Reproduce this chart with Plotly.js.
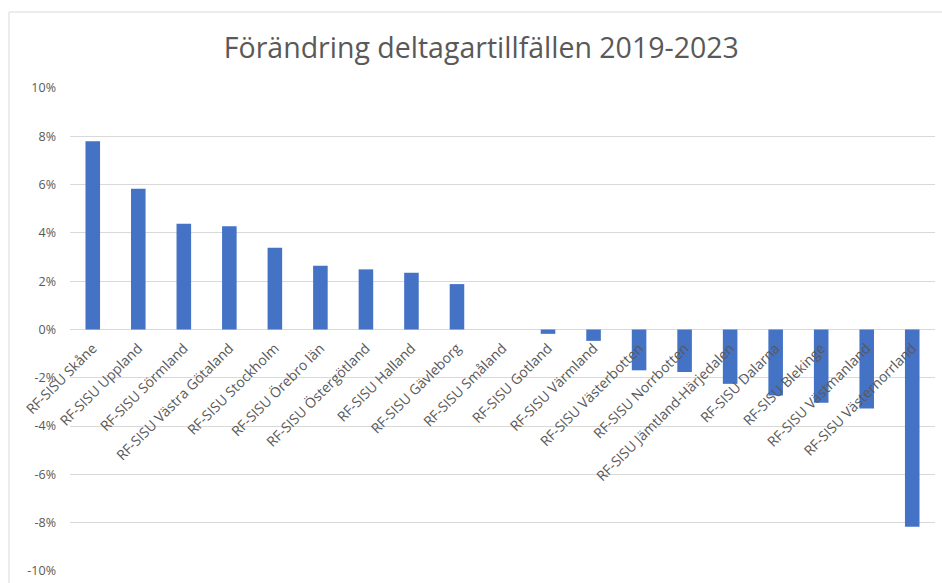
<!DOCTYPE html>
<html>
<head>
<meta charset="utf-8">
<script src="https://cdn.plot.ly/plotly-3.0.1.min.js"></script>
<style>
  body { margin: 0; background: #fff; }
  #myDiv { width: 942px; height: 583px; }
</style>
</head>
<body>
<div id="myDiv"></div>
<script>
var regions = [
  'RF-SISU Skåne', 'RF-SISU Uppland', 'RF-SISU Sörmland', 'RF-SISU Västra Götaland',
  'RF-SISU Stockholm', 'RF-SISU Örebro län', 'RF-SISU Östergötland', 'RF-SISU Halland',
  'RF-SISU Gävleborg', 'RF-SISU Småland', 'RF-SISU Gotland', 'RF-SISU Värmland',
  'RF-SISU Västerbotten', 'RF-SISU Norrbotten', 'RF-SISU Jämtland-Härjedalen',
  'RF-SISU Dalarna', 'RF-SISU Blekinge', 'RF-SISU Västmanland', 'RF-SISU Västernorrland'
];
// change in percent
var change = [
  7.79, 5.83, 4.38, 4.28,
  3.39, 2.64, 2.49, 2.35,
  1.88, 0.0, -0.18, -0.47,
  -1.69, -1.76, -2.25,
  -2.73, -3.03, -3.27, -8.17
];
var yTicks = [-10, -8, -6, -4, -2, 0, 2, 4, 6, 8, 10];
var yTickText = ['-10%', '-8%', '-6%', '-4%', '-2%', '0%', '2%', '4%', '6%', '8%', '10%'];

var trace1 = {
  type: 'bar',
  x: regions,
  y: change,
  marker: { color: '#4472C4' },
  hoverinfo: 'x+y'
};

var gray = '#595959';

var layout = {
  width: 942,
  height: 583,
  margin: { l: 70, r: 7, t: 88, b: 12 },
  paper_bgcolor: '#fff',
  plot_bgcolor: '#fff',
  showlegend: false,
  bargap: 0.68,
  title: {
    text: 'Förändring deltagartillfällen 2019-2023',
    font: { family: 'Open Sans', size: 28.5, color: gray },
    x: 0.511, xanchor: 'center',
    y: 0.918, yref: 'container', yanchor: 'middle'
  },
  xaxis: {
    type: 'category',
    anchor: 'free',
    position: 0.5,
    tickangle: -45,
    showgrid: false,
    showline: false,
    ticks: '',
    ticklabelstandoff: 7,
    tickfont: { family: 'Open Sans', size: 14, color: gray },
    range: [-0.5, 18.5]
  },
  yaxis: {
    range: [-10, 10],
    tickvals: yTicks,
    ticktext: yTickText,
    showgrid: true,
    gridcolor: '#d9d9d9',
    gridwidth: 1,
    zeroline: true,
    zerolinecolor: '#d9d9d9',
    zerolinewidth: 1,
    showline: false,
    ticks: '',
    ticklabelstandoff: 13,
    tickfont: { family: 'Open Sans', size: 12.5, color: gray }
  },
  shapes: [{
    type: 'rect',
    xref: 'paper', yref: 'paper',
    x0: (9 - 70) / 865, x1: (945 - 70) / 865,
    y0: (571 - 590) / 483, y1: (571 - 12) / 483,
    line: { color: '#d9d9d9', width: 1 },
    fillcolor: 'rgba(0,0,0,0)',
    layer: 'below'
  }]
};

Plotly.newPlot('myDiv', [trace1], layout, { displayModeBar: false, staticPlot: true });
</script>
</body>
</html>
